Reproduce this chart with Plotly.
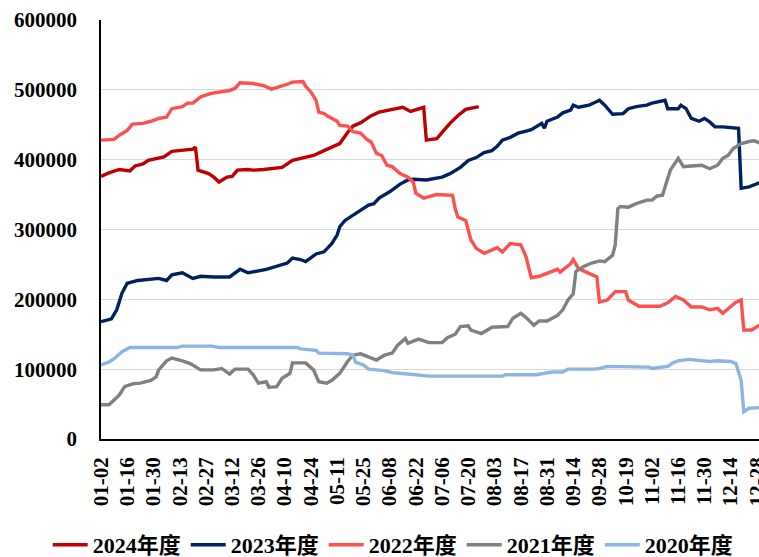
import plotly.graph_objects as go

# Tick labels (every 10th trading day)
tick_labels = ["01-02", "01-16", "01-30", "02-13", "02-27", "03-12", "03-26", "04-10",
               "04-24", "05-11", "05-25", "06-08", "06-22", "07-06", "07-20", "08-03",
               "08-17", "08-31", "09-14", "09-28", "10-19", "11-02", "11-16", "11-30",
               "12-14", "12-28"]
tick_step = 10

# Series: trading-day index and value
day_2024 = [0, 3, 7, 11, 13, 16, 18, 21, 24, 27, 31, 35, 36, 37, 41, 43, 45, 48, 50, 52, 56, 58,
            62, 69, 73, 77, 81, 85, 88, 91, 94, 96, 99, 103, 106, 110, 115, 118, 123, 124, 128,
            130, 133, 136, 139, 144]
val_2024 = [376000, 381000, 386000, 384000, 391000, 394000, 399000, 402000, 404000, 412000,
            413000, 415000, 418000, 385000, 380000, 375000, 368000, 375000, 376000, 385000,
            386000, 385000, 386000, 389000, 399000, 403000, 406000, 413000, 418000, 423000,
            439000, 448000, 453000, 463000, 468000, 471000, 475000, 469000, 475000, 428000,
            430000, 439000, 452000, 463000, 472000, 476000]

day_2023 = [0, 4, 6, 8, 10, 14, 22, 25, 27, 31, 35, 38, 43, 49, 53, 56, 63, 67, 71, 73, 76, 78,
            80, 82, 85, 87, 88, 90, 91, 93, 95, 98, 100, 102, 104, 106, 110, 114, 117, 119, 124,
            127, 130, 133, 137, 140, 143, 146, 149, 151, 153, 156, 159, 162, 164, 168, 169, 170,
            174, 176, 179, 180, 182, 186, 190, 192, 195, 199, 201, 204, 208, 210, 215, 216, 220,
            221, 223, 225, 228, 230, 232, 234, 237, 243, 244, 247, 251]
val_2023 = [168000, 172000, 185000, 209000, 223000, 227000, 230000, 227000, 235000, 238000,
            230000, 233000, 232000, 232000, 243000, 238000, 243000, 248000, 252000, 259000,
            257000, 254000, 259000, 265000, 268000, 275000, 280000, 292000, 304000, 313000,
            318000, 325000, 330000, 335000, 337000, 345000, 354000, 365000, 371000, 372000,
            371000, 373000, 375000, 380000, 389000, 399000, 403000, 410000, 413000, 419000,
            428000, 432000, 438000, 441000, 443000, 452000, 445000, 455000, 461000, 467000,
            471000, 478000, 475000, 478000, 485000, 478000, 465000, 466000, 473000, 476000,
            478000, 481000, 485000, 473000, 473000, 478000, 473000, 459000, 455000, 459000,
            454000, 447000, 447000, 445000, 359000, 361000, 367000]

day_2022 = [0, 5, 7, 10, 12, 16, 19, 22, 25, 27, 31, 33, 35, 38, 42, 45, 49, 51, 53, 58, 62, 65,
            68, 71, 73, 77, 78, 80, 82, 83, 85, 87, 90, 91, 94, 96, 99, 101, 103, 104, 105, 107,
            109, 111, 114, 117, 119, 120, 123, 125, 128, 134, 135, 136, 139, 141, 143, 146, 151,
            153, 156, 160, 162, 164, 167, 174, 175, 179, 180, 182, 187, 189, 190, 193, 196, 200,
            201, 205, 213, 216, 219, 222, 225, 229, 232, 235, 237, 240, 242, 244, 245, 248, 251]
val_2022 = [428000, 429000, 435000, 442000, 451000, 452000, 455000, 459000, 461000, 473000,
            476000, 481000, 481000, 490000, 495000, 497000, 499000, 502000, 510000, 509000,
            506000, 501000, 504000, 508000, 511000, 512000, 505000, 497000, 485000, 468000,
            466000, 461000, 455000, 449000, 448000, 440000, 438000, 430000, 425000, 418000,
            409000, 406000, 392000, 390000, 380000, 375000, 368000, 352000, 345000, 347000,
            350000, 349000, 330000, 318000, 313000, 285000, 273000, 266000, 274000, 268000,
            280000, 278000, 261000, 231000, 233000, 243000, 239000, 251000, 257000, 244000,
            236000, 232000, 196000, 199000, 211000, 211000, 199000, 190000, 190000, 195000,
            204000, 199000, 189000, 189000, 185000, 187000, 180000, 189000, 196000, 199000,
            156000, 156000, 163000]

day_2021 = [0, 3, 5, 7, 9, 12, 15, 17, 19, 21, 22, 25, 27, 31, 34, 38, 43, 46, 49, 51, 56, 58,
            60, 63, 64, 67, 69, 72, 73, 78, 81, 83, 86, 88, 91, 94, 96, 99, 103, 105, 108, 111,
            113, 116, 117, 121, 125, 130, 132, 135, 137, 140, 141, 145, 149, 152, 155, 157, 160,
            162, 165, 167, 170, 174, 176, 178, 180, 181, 184, 187, 190, 192, 195, 196, 197, 198,
            201, 204, 208, 210, 212, 214, 215, 217, 220, 222, 225, 229, 232, 235, 237, 239, 241,
            244, 247, 249, 251]
val_2021 = [49000, 49000, 56000, 63000, 75000, 79000, 80000, 82000, 84000, 89000, 99000,
            112000, 116000, 112000, 108000, 99000, 99000, 101000, 93000, 100000, 100000, 92000,
            80000, 82000, 74000, 75000, 87000, 94000, 109000, 109000, 99000, 82000, 80000, 84000,
            94000, 111000, 120000, 122000, 116000, 113000, 120000, 123000, 134000, 144000,
            137000, 143000, 138000, 138000, 145000, 150000, 161000, 162000, 156000, 151000,
            160000, 161000, 161000, 173000, 180000, 174000, 163000, 169000, 169000, 177000,
            185000, 199000, 208000, 240000, 247000, 252000, 255000, 254000, 263000, 278000,
            330000, 333000, 332000, 337000, 342000, 342000, 348000, 349000, 361000, 385000,
            402000, 390000, 391000, 392000, 387000, 392000, 402000, 406000, 416000, 423000,
            426000, 427000, 424000]

day_2020 = [0, 3, 5, 8, 11, 29, 31, 42, 45, 62, 75, 76, 82, 83, 91, 94, 96, 97, 100, 102, 108,
            111, 117, 125, 153, 154, 166, 172, 176, 178, 188, 190, 193, 199, 200, 209, 210, 216,
            218, 220, 224, 228, 232, 235, 240, 242, 244, 245, 247, 251]
val_2020 = [106000, 110000, 115000, 125000, 131000, 131000, 133000, 133000, 131000, 131000,
            131000, 129000, 127000, 123000, 123000, 122000, 120000, 110000, 106000, 100000,
            98000, 95000, 93000, 90000, 90000, 92000, 92000, 96000, 96000, 100000, 100000,
            101000, 104000, 104000, 103000, 103000, 101000, 104000, 109000, 112000, 114000,
            113000, 111000, 112000, 111000, 108000, 84000, 39000, 44000, 45000]

series = [
    ("2024年度", day_2024, val_2024, "#C00000"),
    ("2023年度", day_2023, val_2023, "#002060"),
    ("2022年度", day_2022, val_2022, "#FF5050"),
    ("2021年度", day_2021, val_2021, "#808080"),
    ("2020年度", day_2020, val_2020, "#8DB4E2"),
]

FONT = "Liberation Serif, Times New Roman, Noto Sans CJK SC, serif"

fig = go.Figure()
for name, xs, ys, color in series:
    fig.add_trace(go.Scatter(x=xs, y=ys, mode="lines", name=name,
                             line=dict(color=color, width=3.4)))

tickvals = [i * tick_step for i in range(len(tick_labels))]

fig.update_layout(
    width=759, height=557,
    margin=dict(l=101, r=0, t=20, b=118, autoexpand=False),
    plot_bgcolor="white", paper_bgcolor="white",
    font=dict(family=FONT, color="black", size=20, weight="bold"),
    showlegend=True,
    legend=dict(orientation="h", x=-0.081, xanchor="left", y=-0.253, yanchor="middle",
                font=dict(family=FONT, size=22, weight="bold"),
                itemwidth=35, tracegroupgap=0),
)
fig.update_xaxes(
    range=[0, 250.8], tickmode="array", tickvals=tickvals, ticktext=tick_labels,
    tickangle=-90, showgrid=False, zeroline=False, automargin=False,
    showline=True, linecolor="black", linewidth=1.5,
    ticks="", ticklabelstandoff=8, ticklabeloverflow="allow",
    tickfont=dict(family=FONT, size=21, weight="bold"),
)
fig.update_yaxes(
    range=[0, 600000], tickmode="linear", tick0=0, dtick=100000, tickformat="d",
    showgrid=True, gridcolor="#D9D9D9", gridwidth=1.2, zeroline=False, automargin=False,
    showline=True, linecolor="black", linewidth=1.5,
    ticks="", ticklabelstandoff=18,
    tickfont=dict(family=FONT, size=21, weight="bold"),
)

fig.write_html("out.html",
               config={"displayModeBar": False},
               post_script="document.body.style.margin='0';document.body.style.overflow='hidden';")
